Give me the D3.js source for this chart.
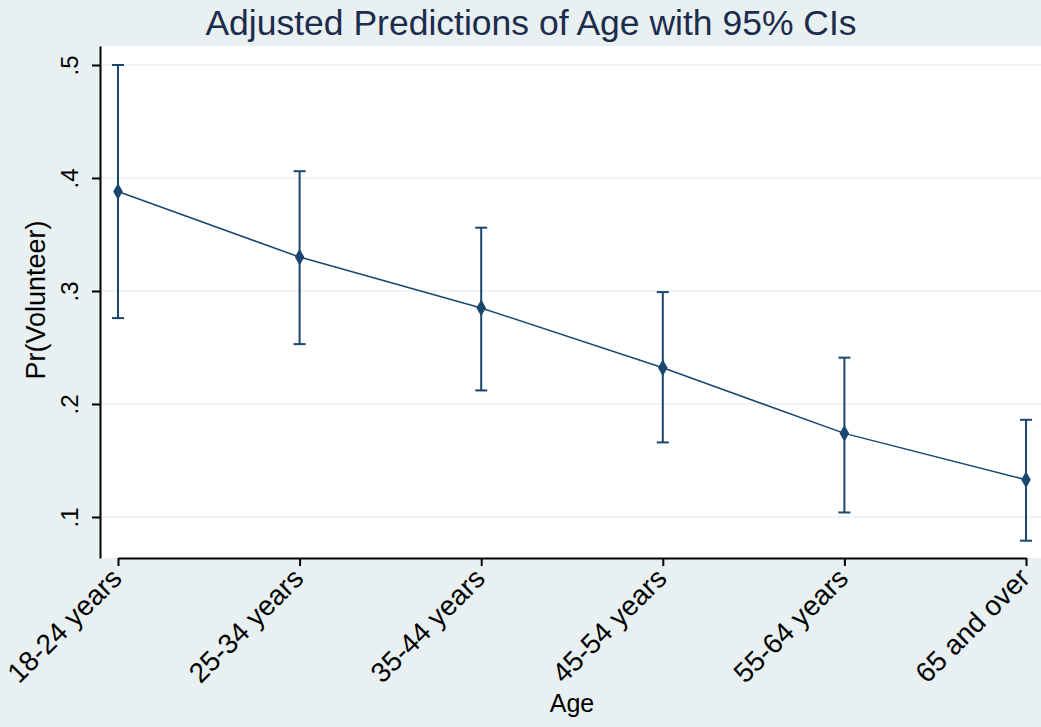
<!DOCTYPE html>
<html>
<head>
<meta charset="utf-8">
<script src="https://cdn.jsdelivr.net/npm/d3@7"></script>
<style>
  body { margin: 0; background: #e8f0f2; }
  text { font-family: "Liberation Sans", Arial, sans-serif; }
</style>
</head>
<body>
<div id="chart"></div>
<script>
// data
const ageGroups = ["18-24 years", "25-34 years", "35-44 years", "45-54 years", "55-64 years", "65 and over"];
const predicted = [0.388, 0.330, 0.285, 0.232, 0.174, 0.133];
const ciLower   = [0.276, 0.253, 0.212, 0.166, 0.104, 0.079];
const ciUpper   = [0.500, 0.406, 0.356, 0.299, 0.241, 0.186];
const yTicks    = [0.1, 0.2, 0.3, 0.4, 0.5];

const W = 1041, H = 727;
const margin = {top: 46, right: 0, bottom: 169, left: 100};
const width = W - margin.left - margin.right,
      height = H - margin.top - margin.bottom;
const navy = "#1a476f";

const svg = d3.select("#chart").append("svg")
    .attr("width", W)
    .attr("height", H);

svg.append("rect")
    .attr("width", W).attr("height", H)
    .attr("fill", "#e8f0f2");

const g = svg.append("g")
    .attr("transform", `translate(${margin.left},${margin.top})`);

// plot region
g.append("rect")
    .attr("width", width)
    .attr("height", height)
    .attr("fill", "#fff");

const x = d3.scalePoint()
    .domain(ageGroups)
    .range([18, 926]);

const y = d3.scaleLinear()
    .domain([0.0637, 0.5168])
    .range([height, 0]);

// gridlines
g.selectAll(".grid")
    .data(yTicks)
    .enter().append("line")
    .attr("x1", 0).attr("x2", width)
    .attr("y1", d => y(d)).attr("y2", d => y(d))
    .attr("stroke", "#eaf2f3")
    .attr("stroke-width", 1.5);

// Y axis
const yAxis = g.append("g")
    .call(d3.axisLeft(y).tickValues(yTicks)
        .tickFormat(d => d3.format(".1f")(d).replace(/^0/, ""))
        .tickSize(8).tickSizeOuter(0));
yAxis.select(".domain").attr("stroke", "#000").attr("stroke-width", 2);
yAxis.selectAll(".tick line").attr("stroke", "#000").attr("stroke-width", 2);
yAxis.selectAll(".tick text")
    .attr("font-size", 24)
    .attr("fill", "#000")
    .attr("x", null).attr("dy", null)
    .attr("text-anchor", "middle")
    .attr("transform", "translate(-22,0) rotate(-90)");

// X axis
const xAxis = g.append("g")
    .attr("transform", `translate(0,${height})`)
    .call(d3.axisBottom(x).tickSize(8).tickSizeOuter(0));
xAxis.select(".domain").attr("stroke", "#000").attr("stroke-width", 2);
xAxis.selectAll(".tick line").attr("stroke", "#000").attr("stroke-width", 2);
xAxis.selectAll(".tick text")
    .attr("font-size", 28)
    .attr("fill", "#000")
    .attr("y", null).attr("dy", null)
    .attr("text-anchor", "end")
    .attr("transform", "translate(5,22) rotate(-45)");

// CI bars
const cap = 6;
const ci = g.selectAll(".ci")
    .data(ageGroups)
    .enter().append("g")
    .attr("stroke", navy)
    .attr("stroke-width", 2);
ci.append("line")
    .attr("x1", d => x(d)).attr("x2", d => x(d))
    .attr("y1", (d, i) => y(ciLower[i])).attr("y2", (d, i) => y(ciUpper[i]));
ci.append("line")
    .attr("x1", d => x(d) - cap).attr("x2", d => x(d) + cap)
    .attr("y1", (d, i) => y(ciLower[i])).attr("y2", (d, i) => y(ciLower[i]));
ci.append("line")
    .attr("x1", d => x(d) - cap).attr("x2", d => x(d) + cap)
    .attr("y1", (d, i) => y(ciUpper[i])).attr("y2", (d, i) => y(ciUpper[i]));

// prediction line
g.append("path")
    .datum(ageGroups)
    .attr("fill", "none")
    .attr("stroke", navy)
    .attr("stroke-width", 1.5)
    .attr("d", d3.line().x(d => x(d)).y((d, i) => y(predicted[i])));

// markers
g.selectAll(".pt")
    .data(ageGroups)
    .enter().append("path")
    .attr("d", d3.symbol(d3.symbolDiamond, 80))
    .attr("transform", (d, i) => `translate(${x(d)},${y(predicted[i])})`)
    .attr("fill", navy);

// titles
svg.append("text")
    .attr("x", 531).attr("y", 35)
    .attr("text-anchor", "middle")
    .attr("font-size", 35.5)
    .attr("fill", "#1c2c4c")
    .text("Adjusted Predictions of Age with 95% CIs");

svg.append("text")
    .attr("x", 572).attr("y", 712)
    .attr("text-anchor", "middle")
    .attr("font-size", 25)
    .attr("fill", "#000")
    .text("Age");

svg.append("text")
    .attr("transform", "translate(45,300) rotate(-90)")
    .attr("text-anchor", "middle")
    .attr("font-size", 27)
    .attr("fill", "#000")
    .text("Pr(Volunteer)");
</script>
</body>
</html>
